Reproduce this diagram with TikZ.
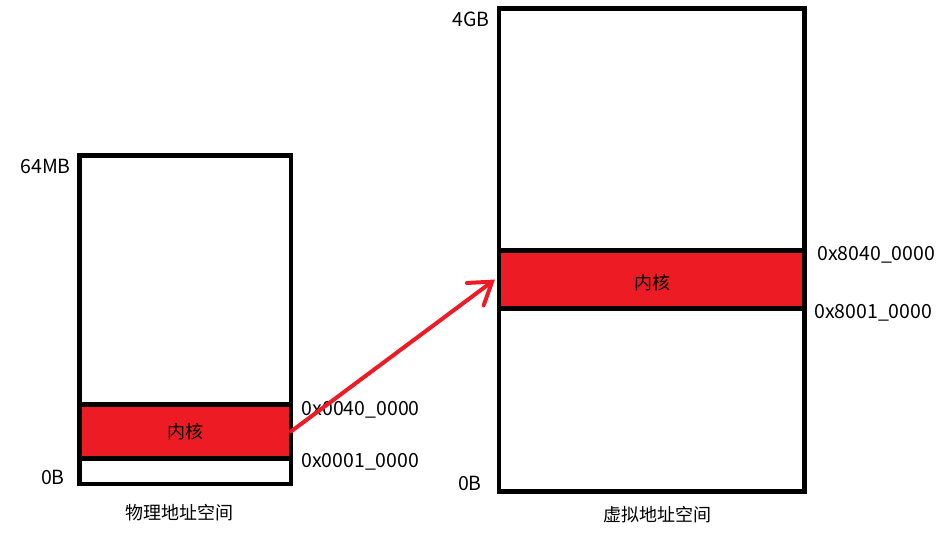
\documentclass[tikz,border=0pt]{standalone}
\usepackage{fontspec}
\setmainfont{Noto Sans CJK SC}
\usetikzlibrary{arrows.meta}
\definecolor{kred}{HTML}{ED1C24}
\tikzset{
  membox/.style={draw=black, line width=4.5pt, fill=white, inner sep=0pt, outer sep=0pt},
  kband/.style={draw=black, line width=4.5pt, fill=kred, inner sep=0pt, outer sep=0pt, font=\fontsize{18pt}{20pt}\selectfont},
  lbl/.style={inner sep=0pt, font=\fontsize{19.5pt}{21pt}\selectfont},
  cjklbl/.style={inner sep=0pt, font=\fontsize{18pt}{20pt}\selectfont},
  maparrow/.style={draw=kred, line width=4pt, line cap=round, -{Straight Barb[length=21pt,width=28pt,line cap=round]}}
}
\begin{document}
\begin{tikzpicture}[x=1pt,y=-1pt]
\useasboundingbox (0,0) rectangle (950,544);
% physical address space
\node[membox, minimum width=211.5pt, minimum height=328.5pt] (physBox) at (185.25,319.75) {};
\node[kband, minimum width=211.5pt, minimum height=54pt] (kernelP) at (185.25,431.5) {内核};
% virtual address space
\node[membox, minimum width=305.5pt, minimum height=483pt] (virtBox) at (651.75,250) {};
\node[kband, minimum width=305.5pt, minimum height=58pt] (kernelV) at (651.75,279.5) {};
\node[cjklbl] (kernelVText) at (652.5,282.5) {内核};
% labels
\node[lbl, anchor=base east] (p64) at (71,173) {64MB};
\node[lbl, anchor=base east] (p0) at (65,484) {0B};
\node[lbl, anchor=base west] (pk1) at (301.5,415.5) {0x0040\_0000};
\node[lbl, anchor=base west] (pk0) at (301,467) {0x0001\_0000};
\node[cjklbl] (ptitle) at (179.5,513) {物理地址空间};
\node[lbl, anchor=base east] (v4) at (490,26) {4GB};
\node[lbl, anchor=base east] (v0) at (482,490.5) {0B};
\node[lbl, anchor=base west] (vk1) at (817,260) {0x8040\_0000};
\node[lbl, anchor=base west] (vk0) at (814,318) {0x8001\_0000};
\node[cjklbl] (vtitle) at (657.5,515) {虚拟地址空间};
% mapping arrow
\draw[maparrow] (kernelP.east) -- ([xshift=-4pt]kernelV.west);
\end{tikzpicture}
\end{document}
